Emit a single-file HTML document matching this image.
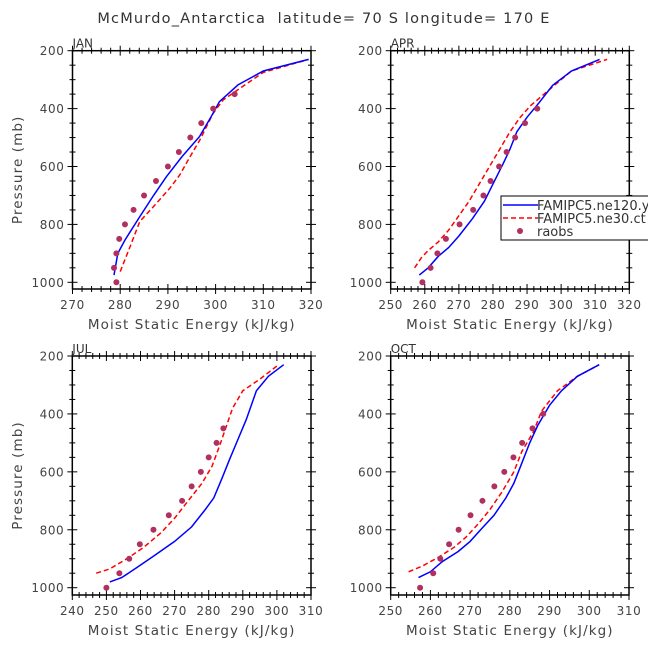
<!DOCTYPE html>
<html><head><meta charset="utf-8"><style>
body{margin:0;background:#fff;}
svg{display:block;font-family:"DejaVu Sans","Liberation Sans",sans-serif;}
</style></head><body>
<svg id="chart" width="648" height="649" viewBox="0 0 648 649" xmlns="http://www.w3.org/2000/svg">
<text x="324" y="23" text-anchor="middle" font-size="14.5" letter-spacing="1.2" fill="#333" xml:space="preserve" style="white-space:pre">McMurdo_Antarctica  latitude= 70 S longitude= 170 E</text>
</svg>
<script>
// ---- data ----
const raobP = [1000,950,900,850,800,750,700,650,600,550,500,450,400,350];
const janRaob = [279.2,278.7,279.2,279.8,281,282.8,285,287.5,290,292.3,294.7,297,299.5,304];
const aprRaob = [259.3,261.7,263.7,266.2,270.2,274.2,277.2,279.3,281.8,284,286.5,289.4,293];
const julRaob = [250,253.8,256.7,259.8,263.8,268.3,272.2,275,277.7,280,282.3,284.3];
const octRaob = [257.4,260.7,262.5,264.7,267.1,270.1,273.1,276.1,278.6,280.9,283.1,285.7,288.4];

const janBlueX = [278.7,279.5,281,284.1,287,289.7,293,296.6,299,300.8,304.7,310,319.5];
const janBlueP = [975,900,854,773,700,635,565,497,430,376,318,270,230];
const janRedX = [280,282,284.1,287.6,290.4,292.5,294.5,296.7,299.5,301.6,303.6,306,310,319.5];
const janRedP = [963,880,790,727,675,629,570,508,416,370,347,320,275,230];

const aprBlueX = [258.4,261,264,267,270,274,277.5,280,283,285,287,290,293.5,297.5,303,311.3];
const aprBlueP = [975,950,910,880,840,780,720,660,590,540,480,430,380,320,270,230];
const aprRedX = [257,259,261,264,267,270,273,276,279,282,285,288,291,295,298,303,313.5];
const aprRedP = [950,915,890,860,820,770,720,660,600,540,480,430,390,350,320,270,230];

const julBlueX = [251,254.5,259,264,270,275,279,281.5,284,286,288.5,291,294,297.5,302];
const julBlueP = [980,965,930,890,840,790,730,690,620,560,490,420,320,270,230];
const julRedX = [247,251,256,261,266,270,274,278,281,283.5,287,290,295,300.5];
const julRedP = [950,935,900,860,810,760,700,640,580,500,380,320,280,230];

const octBlueX = [257,260,263,267,270,273,276,279,281,283,285,287,290,293,297,302.5];
const octBlueP = [965,945,910,875,840,795,750,690,640,570,500,440,370,320,270,230];
const octRedX = [254.5,258,262,266,269,272,275,278,281,283,286,288,292,297,302.5];
const octRedP = [945,925,895,860,825,780,730,670,600,530,460,390,320,270,230];

const yTicks = [200,400,600,800,1000];

const NS="http://www.w3.org/2000/svg";
const svg=document.getElementById('chart');
function mk(tag,attrs,parent){const e=document.createElementNS(NS,tag);for(const k in attrs)e.setAttribute(k,attrs[k]);(parent||svg).appendChild(e);return e;}

function panel(o){
  const g=mk('g',{});
  
  
  const sx=v=>o.x0+(v-o.xmin)/(o.xmax-o.xmin)*(o.x1-o.x0);
  const sy=p=>o.y200+(p-200)/800*(o.y1000-o.y200);
  const bottom=o.bottom;
  const box=mk('rect',{x:o.x0,y:o.y200,width:o.x1-o.x0,height:bottom-o.y200,fill:'none',stroke:'#000','stroke-width':1.5},g);
  
  
  for(let v=o.xmin;v<=o.xmax+0.001;v+=2){
    const major=((v-o.xmin)%10)===0;const L=major?5:3;const X=sx(v);
    mk('line',{x1:X,x2:X,y1:bottom-L,y2:bottom+L,stroke:'#000','stroke-width':1},g);
    mk('line',{x1:X,x2:X,y1:o.y200-L,y2:o.y200+L,stroke:'#000','stroke-width':1},g);
    if(major){const t=mk('text',{x:X,y:bottom+20,'text-anchor':'middle','font-size':12,'letter-spacing':0.6,fill:'#444'},g);t.textContent=v;
      
      }
  }
  for(let p=200;p<=1000;p+=50){
    const major=p%200===0;const L=major?5:3;const Y=sy(p);
    mk('line',{x1:o.x0-L,x2:o.x0+L,y1:Y,y2:Y,stroke:'#000','stroke-width':1},g);
    mk('line',{x1:o.x1-L,x2:o.x1+L,y1:Y,y2:Y,stroke:'#000','stroke-width':1},g);
  }
  yTicks.forEach(p=>{const t=mk('text',{x:o.x0-8,y:sy(p)+4.5,'text-anchor':'end','font-size':12,'letter-spacing':0.6,fill:'#444'},g);t.textContent=p;
    
    });
  const xt=mk('text',{x:(o.x0+o.x1)/2,y:bottom+40,'text-anchor':'middle','font-size':13.5,'letter-spacing':1.1,fill:'#444'},g);xt.textContent='Moist Static Energy (kJ/kg)';
  
  
  if(o.ylab){const yt=mk('text',{x:0,y:0,transform:`translate(22,${(o.y200+bottom)/2}) rotate(-90)`,'text-anchor':'middle','font-size':13.5,'letter-spacing':1.1,fill:'#444'},g);yt.textContent='Pressure (mb)';
    
    }
  const lb=mk('text',{x:o.x0,y:o.y200-3,'font-size':12,fill:'#333'},g);lb.textContent=o.label;
  
  
  const line=(xs,ps,col,dash,nm)=>{const d=xs.map((v,i)=>(i?'L':'M')+sx(v).toFixed(1)+','+sy(ps[i]).toFixed(1)).join('');
    const pth=mk('path',{d:d,fill:'none',stroke:col,'stroke-width':1.5,'stroke-dasharray':dash||'none'},g);
    
    };
  line(o.rx,o.rp,'#ff0000','5,3',o.name+'-ne30-line');
  line(o.bx,o.bp,'#0000ff',null,o.name+'-ne120-line');
  o.raob.forEach((v,i)=>{const c=mk('circle',{cx:sx(v),cy:sy(raobP[i]),r:3,fill:'#b03060'},g);
    
    });
}
panel({name:'jan',label:'JAN',xmin:270,xmax:320,x0:72.5,x1:311,y200:50.7,y1000:282.3,bottom:289,ylab:true,raob:janRaob,bx:janBlueX,bp:janBlueP,rx:janRedX,rp:janRedP});
panel({name:'apr',label:'APR',xmin:250,xmax:320,x0:390.7,x1:629.3,y200:50.7,y1000:282.3,bottom:289,ylab:false,raob:aprRaob,bx:aprBlueX,bp:aprBlueP,rx:aprRedX,rp:aprRedP});
panel({name:'jul',label:'JUL',xmin:240,xmax:310,x0:72.3,x1:311,y200:356,y1000:587.7,bottom:595,ylab:true,raob:julRaob,bx:julBlueX,bp:julBlueP,rx:julRedX,rp:julRedP});
panel({name:'oct',label:'OCT',xmin:250,xmax:310,x0:390.7,x1:629,y200:356,y1000:587.7,bottom:595,ylab:false,raob:octRaob,bx:octBlueX,bp:octBlueP,rx:octRedX,rp:octRedP});

const lg=mk('g',{});


mk('rect',{x:501,y:196,width:160,height:44,fill:'#fff',stroke:'#000','stroke-width':1},lg);
const ents=[['FAMIPC5.ne120.y','#0000ff',null,'legend-entry-ne120'],['FAMIPC5.ne30.ct','#ff0000','5,3','legend-entry-ne30']];
ents.forEach((e,i)=>{const y=205+i*13;
  mk('line',{x1:503,x2:538,y1:y,y2:y,stroke:e[1],'stroke-width':1.5,'stroke-dasharray':e[2]||'none'},lg);
  const t=mk('text',{x:537,y:y+5,'font-size':13,fill:'#333'},lg);t.textContent=e[0];
  
  });
mk('circle',{cx:520,cy:231,r:3,fill:'#b03060'},lg);
const rt=mk('text',{x:537,y:236,'font-size':13,fill:'#333'},lg);rt.textContent='raobs';


</script>
</body></html>
